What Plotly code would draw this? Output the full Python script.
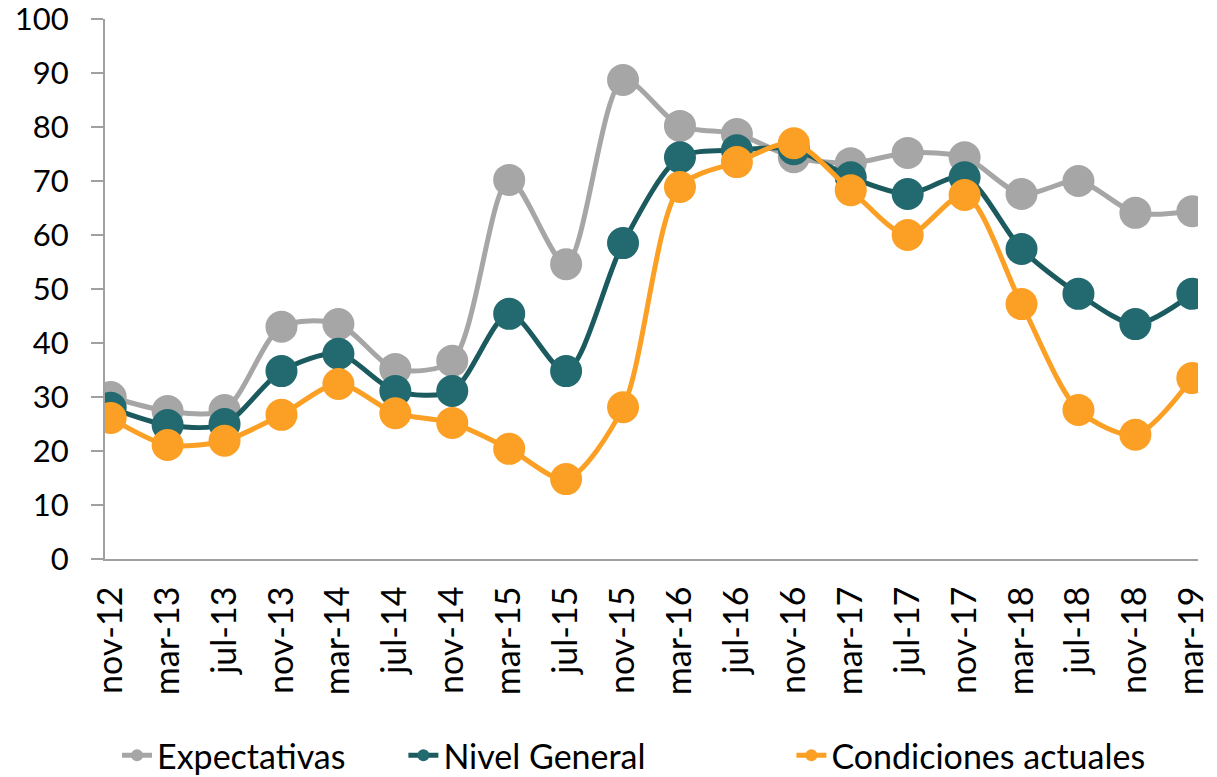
import plotly.graph_objects as go

categories = ["nov-12", "mar-13", "jul-13", "nov-13", "mar-14", "jul-14", "nov-14",
              "mar-15", "jul-15", "nov-15", "mar-16", "jul-16", "nov-16", "mar-17",
              "jul-17", "nov-17", "mar-18", "jul-18", "nov-18", "mar-19"]

expectativas = [30.0, 27.4, 27.6, 43.0, 43.5, 35.2, 36.7, 70.2, 54.6, 88.7,
                80.2, 78.7, 74.4, 73.3, 75.2, 74.4, 67.6, 70.0, 64.1, 64.4]
nivel_general = [28.0, 24.8, 25.0, 34.8, 38.0, 31.1, 31.1, 45.4, 34.8, 58.5,
                 74.4, 75.7, 75.9, 70.7, 67.6, 70.7, 57.4, 49.1, 43.5, 49.1]
condiciones = [26.1, 21.1, 21.9, 26.7, 32.4, 27.0, 25.2, 20.4, 14.8, 28.1,
               68.9, 73.5, 77.0, 68.3, 60.0, 67.4, 47.2, 27.6, 23.0, 33.5]

y_ticks = list(range(0, 101, 10))

series = [
    ("Expectativas", expectativas, "#A6A6A6", "#A6A6A6", "legend", 0.011),
    ("Nivel General", nivel_general, "#1B5A5E", "#226A6F", "legend2", 0.273),
    ("Condiciones actuales", condiciones, "#FBA025", "#FBA025", "legend3", 0.628),
]

xs = list(range(len(categories)))
FONT = "Lato, Carlito, Calibri, sans-serif"
FS = 33

fig = go.Figure()
legends = {}
for name, vals, lc, mc, leg, lx in series:
    fig.add_trace(go.Scatter(
        x=xs, y=vals, name=name, mode="lines+markers", legend=leg,
        line=dict(color=lc, width=5, shape="spline", smoothing=0.8),
        marker=dict(color=mc, size=32),
    ))
    legends[leg] = dict(orientation="h", x=lx, xanchor="left", y=-0.418, yanchor="bottom",
                        font=dict(size=34, family=FONT, color="black"),
                        itemsizing="constant", bgcolor="rgba(0,0,0,0)")

fig.update_layout(
    width=1217, height=777,
    margin=dict(l=105, r=19, t=19, b=218, autoexpand=False),
    paper_bgcolor="white", plot_bgcolor="white",
    font=dict(family=FONT, size=FS, color="black"),
    showlegend=True,
    **legends,
)
fig.update_xaxes(
    tickmode="array", tickvals=xs, ticktext=categories, tickangle=-90,
    tickfont=dict(size=34),
    range=[-0.1, len(xs) - 1 + 0.1], showline=True, linecolor="#A0A0A0", linewidth=2,
    showgrid=False, zeroline=False, ticks="", ticklabelstandoff=12, automargin=False,
    ticklabeloverflow="allow",
)
fig.update_yaxes(
    range=[0, 100], tickvals=y_ticks, showline=True, linecolor="#A0A0A0", linewidth=2,
    showgrid=False, zeroline=False, ticks="outside", ticklen=12, tickcolor="#A0A0A0",
    tickwidth=2, ticklabelstandoff=16, automargin=False, ticklabeloverflow="allow",
    tickfont=dict(size=31),
)
fig.write_html("out.html", config={"displayModeBar": False},
               post_script="document.body.style.margin='0';document.body.style.padding='0';")
